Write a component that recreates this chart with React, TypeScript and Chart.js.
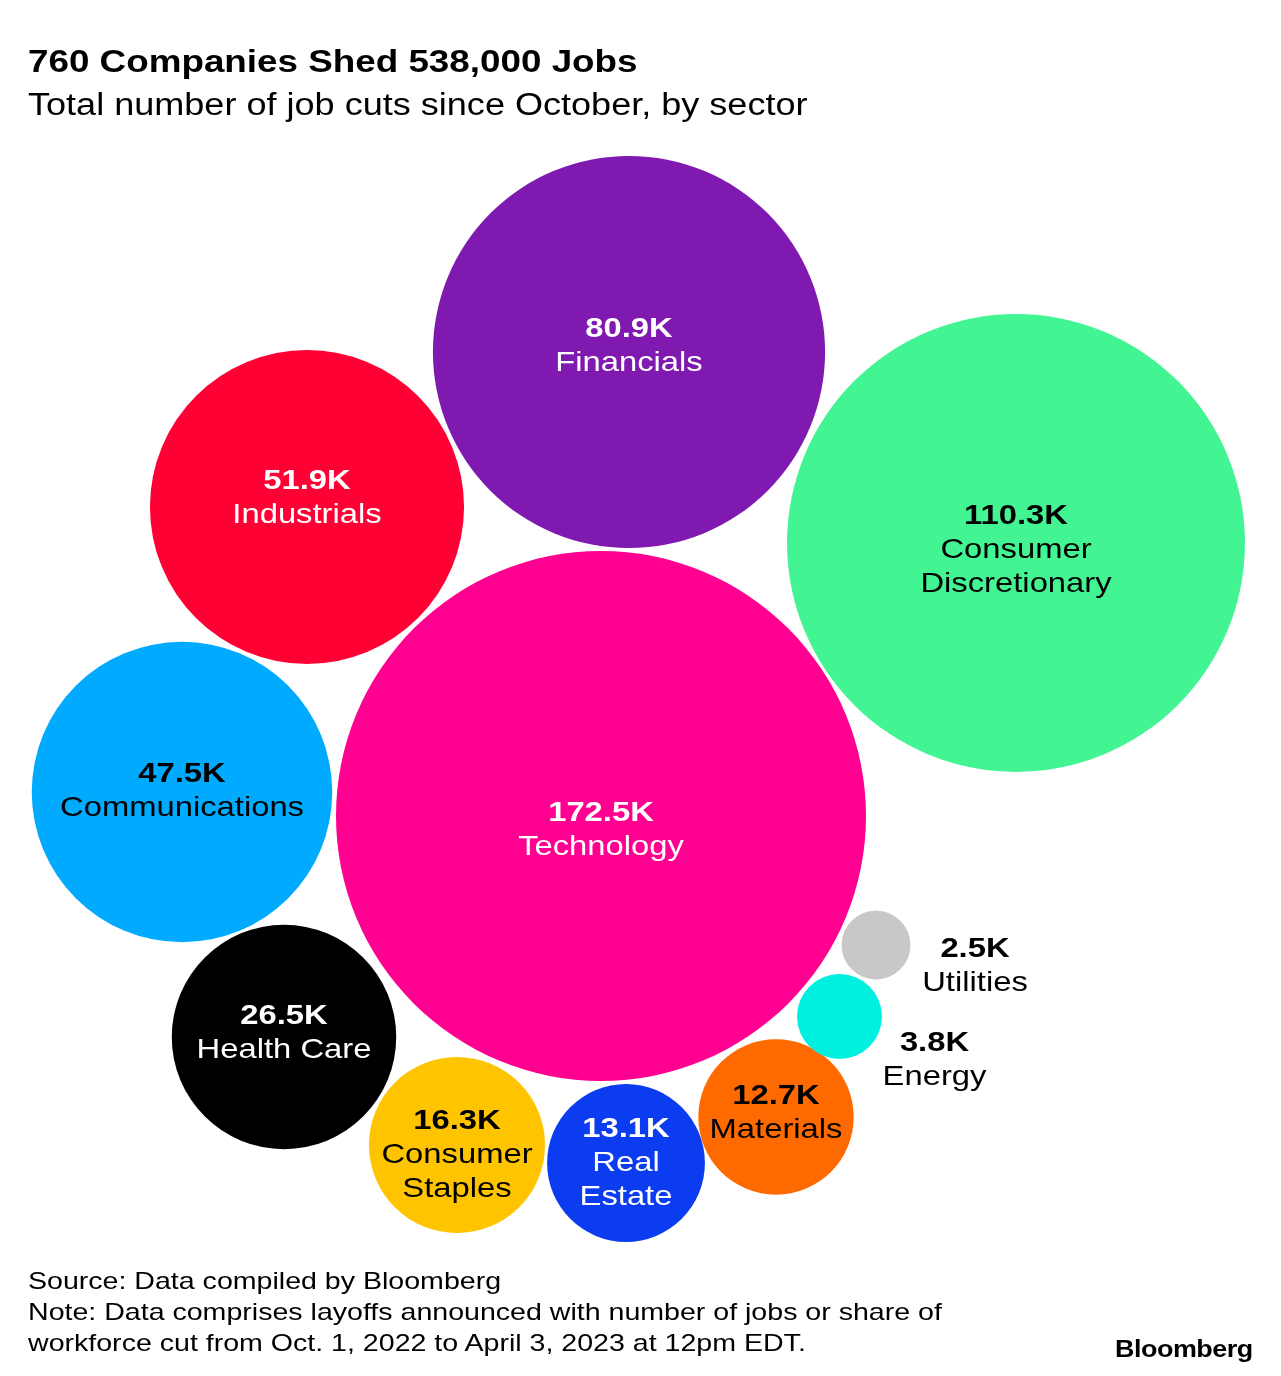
import React, { useEffect, useRef } from 'react';
import { Chart, registerables } from 'chart.js';

Chart.register(...registerables);

// ---- Data ----
const sectors = [
  'Financials',
  'Consumer\nDiscretionary',
  'Industrials',
  'Communications',
  'Technology',
  'Health Care',
  'Consumer\nStaples',
  'Real\nEstate',
  'Materials',
  'Energy',
  'Utilities',
];
const jobCutsK = [80.9, 110.3, 51.9, 47.5, 172.5, 26.5, 16.3, 13.1, 12.7, 3.8, 2.5];
const sectorColors = [
  '#7f19b0',
  '#42f592',
  '#ff0035',
  '#00aaff',
  '#ff0090',
  '#000000',
  '#ffc400',
  '#0b3cf0',
  '#ff6a00',
  '#00f0e0',
  '#c8c8c8',
];

// ---- Packing layout (layout units of the 1281 x 1376 frame) ----
const packX = [629, 1016, 307, 182, 601, 284, 457, 626, 776, 839.5, 876];
const packY = [352, 543, 507, 792, 816, 1037, 1145, 1163, 1117, 1016.5, 945];
const labelOffsetX = [0, 0, 0, 0, 0, 0, 0, 0, 0, 95, 99];
const labelOffsetY = [-8.5, 5, -11, -3.5, 12, -6.5, 7.5, -2, -6.5, 41, 19];

const RADIUS_PER_SQRT_K = 21.8;
const MAX_RADIUS = 265;
const FRAME_W = 1281;
const FRAME_H = 1376;
const FONT = '"Liberation Sans", Arial, Helvetica, sans-serif';
const LABEL_STRETCH = 1.17;

function textColorFor(hex: string): string {
  const n = parseInt(hex.slice(1), 16);
  const ch = [(n >> 16) & 255, (n >> 8) & 255, n & 255].map((c) => {
    const s = c / 255;
    return s <= 0.03928 ? s / 12.92 : Math.pow((s + 0.055) / 1.055, 2.4);
  });
  const L = 0.2126 * ch[0] + 0.7152 * ch[1] + 0.0722 * ch[2];
  return L > 0.28 ? '#000000' : '#ffffff';
}

const labelPlugin = {
  id: 'bubbleLabels',
  afterDatasetsDraw(chart: any) {
    const ctx = chart.ctx as CanvasRenderingContext2D;
    const meta = chart.getDatasetMeta(0);
    meta.data.forEach((el: any, i: number) => {
      const outside = labelOffsetX[i] !== 0;
      const lines = [
        { t: `${jobCutsK[i].toFixed(1)}K`, bold: true },
        ...sectors[i].split('\n').map((t) => ({ t, bold: false })),
      ];
      const cap = 20;
      const gap = 34;
      const total = cap + (lines.length - 1) * gap;
      const cx = el.x + labelOffsetX[i];
      const cy = el.y + labelOffsetY[i];
      let base = cy - total / 2 + cap;
      ctx.fillStyle = outside ? '#000000' : textColorFor(sectorColors[i]);
      lines.forEach((line) => {
        ctx.save();
        ctx.translate(cx, base);
        ctx.scale(LABEL_STRETCH, 1);
        ctx.font = `${line.bold ? 'bold ' : ''}28px ${FONT}`;
        ctx.textAlign = 'center';
        ctx.textBaseline = 'alphabetic';
        ctx.fillText(line.t, 0, 0);
        ctx.restore();
        base += gap;
      });
    });
  },
};

function BubbleChart() {
  const ref = useRef<HTMLCanvasElement | null>(null);
  useEffect(() => {
    if (!ref.current) return;
    const chart = new Chart(ref.current, {
      type: 'bubble',
      data: {
        datasets: [
          {
            data: sectors.map((_, i) => ({
              x: packX[i],
              y: packY[i],
              r: Math.min(RADIUS_PER_SQRT_K * Math.sqrt(jobCutsK[i]), MAX_RADIUS),
            })),
            backgroundColor: sectorColors,
            borderWidth: 0,
            hoverRadius: 0,
            hoverBorderWidth: 0,
            clip: false,
          } as any,
        ],
      },
      options: {
        animation: false,
        responsive: false,
        devicePixelRatio: 1,
        events: [],
        layout: { padding: 0, autoPadding: false },
        scales: {
          x: { type: 'linear', display: false, min: 0, max: FRAME_W },
          y: { type: 'linear', display: false, min: 0, max: FRAME_H, reverse: true },
        },
        plugins: { legend: { display: false }, tooltip: { enabled: false } },
      } as any,
      plugins: [labelPlugin],
    });
    return () => chart.destroy();
  }, []);
  return (
    <canvas
      ref={ref}
      width={FRAME_W}
      height={FRAME_H}
      style={{ position: 'absolute', left: 0, top: 0, width: FRAME_W, height: FRAME_H }}
    />
  );
}

const textBase: React.CSSProperties = {
  position: 'absolute',
  whiteSpace: 'nowrap',
  color: '#000',
  fontFamily: FONT,
};

export default function App() {
  useEffect(() => {
    document.body.style.margin = '0';
  }, []);
  return (
    <div style={{ position: 'relative', width: FRAME_W, height: FRAME_H, overflow: 'hidden', background: '#fff' }}>
      <BubbleChart />
      <div
        style={{
          ...textBase,
          left: 28,
          top: 45,
          fontSize: 32,
          lineHeight: '32px',
          fontWeight: 'bold',
          transform: 'scaleX(1.15)',
          transformOrigin: 'left top',
        }}
      >
        760 Companies Shed 538,000 Jobs
      </div>
      <div
        style={{
          ...textBase,
          left: 28,
          top: 89,
          fontSize: 31,
          lineHeight: '31px',
          transform: 'scaleX(1.163)',
          transformOrigin: 'left top',
        }}
      >
        Total number of job cuts since October, by sector
      </div>
      <div
        style={{
          ...textBase,
          left: 28,
          top: 1265,
          fontSize: 24,
          lineHeight: '31px',
          transform: 'scaleX(1.19)',
          transformOrigin: 'left top',
        }}
      >
        Source: Data compiled by Bloomberg
        <br />
        Note: Data comprises layoffs announced with number of jobs or share of
        <br />
        workforce cut from Oct. 1, 2022 to April 3, 2023 at 12pm EDT.
      </div>
      <div
        style={{
          ...textBase,
          right: 28,
          top: 1338,
          fontSize: 23,
          lineHeight: '23px',
          fontWeight: 'bold',
          letterSpacing: '-0.4px',
          transform: 'scaleX(1.17)',
          transformOrigin: 'right top',
        }}
      >
        Bloomberg
      </div>
    </div>
  );
}
